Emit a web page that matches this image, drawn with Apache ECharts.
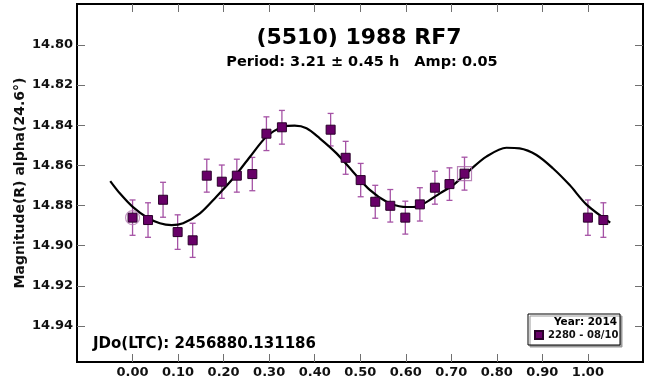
<!DOCTYPE html>
<html><head><meta charset="utf-8">
<script src="https://cdn.jsdelivr.net/npm/echarts@6/dist/echarts.min.js"></script>
<style>html,body{margin:0;padding:0;background:#fff}#c{width:652px;height:385px}</style>
</head><body><div id="c"></div>
<script>
// Observations (phase, magnitude, error)
const phases = [0.000,0.034,0.067,0.099,0.132,0.163,0.196,0.229,0.263,0.294,0.328,0.435,0.468,0.501,0.533,0.566,0.599,0.631,0.664,0.696,0.729];
const mags   = [14.8860,14.8872,14.8771,14.8932,14.8973,14.8651,14.8681,14.8651,14.8643,14.8442,14.8410,14.8422,14.8562,14.8673,14.8781,14.8801,14.8860,14.8794,14.8711,14.8693,14.8641];
const errs   = [0.0088,0.0086,0.0087,0.0086,0.0085,0.0082,0.0083,0.0082,0.0083,0.0084,0.0084,0.0081,0.0082,0.0083,0.0082,0.0081,0.0082,0.0083,0.0082,0.0081,0.0082];
// Fourier fit curve
const fitPhases = [-0.049,-0.028,0.001,0.031,0.060,0.086,0.111,0.148,0.184,0.221,0.258,0.294,0.331,0.356,0.382,0.411,0.448,0.484,0.521,0.558,0.594,0.616,0.638,0.675,0.704,0.741,0.777,0.821,0.850,0.887,0.923,0.960,0.997,1.049];
const fitMags   = [14.8678,14.8739,14.8808,14.8858,14.8888,14.8897,14.8888,14.8839,14.8756,14.8664,14.8557,14.8457,14.8407,14.8402,14.8415,14.8465,14.8540,14.8631,14.8722,14.8781,14.8806,14.8807,14.8792,14.8739,14.8698,14.8623,14.8556,14.8512,14.8515,14.8548,14.8614,14.8698,14.8795,14.8885];
const xTicks = [0.00,0.10,0.20,0.30,0.40,0.50,0.60,0.70,0.80,0.90,1.00];
const yTicks = [14.80,14.82,14.84,14.86,14.88,14.90,14.92,14.94];
const xMin = -0.122, xMax = 1.121;
const yMin = 14.7796, yMax = 14.9579;
const wrapLimit = 0.05;   // points repeated one cycle later
const seriesName = '2280 - 08/10';

const pts = [], bars = [];
phases.forEach((p,i)=>{
  pts.push([p, mags[i]]); bars.push([p, mags[i]-errs[i], mags[i]+errs[i]]);
  if (p + 1 <= 1 + wrapLimit) { pts.push([p+1, mags[i]]); bars.push([p+1, mags[i]-errs[i], mags[i]+errs[i]]); }
});
const fit = fitPhases.map((p,i)=>[p, fitMags[i]]);
const last = phases.length-1;

const FF = '"DejaVu Sans", sans-serif';
const tickStyle = {color:'#707070', width:1};
function xAx(pos, labels){
  return {type:'value', min:xMin, max:xMax, position:pos,
    axisLine:{show:false, onZero:false}, splitLine:{show:false},
    axisTick:{show:true, inside:true, length:8, customValues:xTicks, lineStyle:tickStyle},
    axisLabel:{show:labels, customValues:xTicks, formatter:v=>v.toFixed(2), fontFamily:FF, fontWeight:'bold', fontSize:13, color:'#111', margin:4}};
}
function yAx(pos, labels){
  const a = {type:'value', min:yMin, max:yMax, inverse:true, position:pos,
    axisLine:{show:false, onZero:false}, splitLine:{show:false},
    axisTick:{show:true, inside:true, length:8, customValues:yTicks, lineStyle:tickStyle},
    axisLabel:{show:labels, customValues:yTicks, formatter:v=>v.toFixed(2), fontFamily:FF, fontWeight:'bold', fontSize:13, color:'#111', margin:4}};
  if (labels) Object.assign(a, {name:'Magnitude(R) alpha(24.6°)', nameLocation:'middle', nameRotate:90, nameGap:50, nameMoveOverlap:false,
    nameTextStyle:{fontFamily:FF, fontWeight:'bold', fontSize:14, color:'#111'}});
  return a;
}

const chart = echarts.init(document.getElementById('c'), null, {renderer:'canvas'});
chart.setOption({
  animation:false,
  backgroundColor:'#fff',
  grid:{left:77, top:4, width:566, height:358, show:true, borderColor:'#000', borderWidth:2, backgroundColor:'transparent', outerBoundsMode:'none'},
  xAxis:[xAx('bottom', true), xAx('top', false)],
  yAxis:[yAx('left', true), yAx('right', false)],
  legend:{data:[seriesName], left:534, top:330, padding:0, itemWidth:8, itemHeight:8, icon:'rect',
    textStyle:{fontFamily:FF, fontWeight:'bold', fontSize:10, color:'#111'}},
  graphic:[
    {type:'text', x:359, y:38, style:{text:'(5510) 1988 RF7', fill:'#000', font:'bold 22px "DejaVu Sans"', textAlign:'center', textVerticalAlign:'middle'}},
    {type:'text', x:362, y:62, style:{text:'Period: 3.21 ± 0.45 h   Amp: 0.05', fill:'#000', font:'bold 14.5px "DejaVu Sans"', textAlign:'center', textVerticalAlign:'middle'}},
    {type:'text', x:93, y:344, style:{text:'JDo(LTC): 2456880.131186', fill:'#000', font:'bold 15px "DejaVu Sans"', textAlign:'left', textVerticalAlign:'middle'}},
    {type:'rect', shape:{x:528, y:314, width:92, height:31}, style:{fill:'#fff', stroke:'#000', lineWidth:1, shadowColor:'#9a9a9a', shadowOffsetX:2, shadowOffsetY:2, shadowBlur:0}, z:3},
    {type:'text', x:617, y:322, style:{text:'Year: 2014', fill:'#000', font:'bold 10.5px "DejaVu Sans"', textAlign:'right', textVerticalAlign:'middle'}, z:4}
  ],
  series:[
    {type:'custom', name:'err', z:1, data:bars, encode:{x:0, y:[1,2]},
      renderItem:function(params, api){
        const x = api.value(0);
        const a = api.coord([x, api.value(1)]), b = api.coord([x, api.value(2)]);
        const cw = 3, st = {stroke:'#a552a5', lineWidth:1.3};
        return {type:'group', children:[
          {type:'line', shape:{x1:a[0], y1:a[1], x2:b[0], y2:b[1]}, style:st},
          {type:'line', shape:{x1:a[0]-cw, y1:a[1], x2:a[0]+cw, y2:a[1]}, style:st},
          {type:'line', shape:{x1:b[0]-cw, y1:b[1], x2:b[0]+cw, y2:b[1]}, style:st}
        ]};
      }},
    {type:'line', name:'fit', z:2, data:fit, smooth:0.3, showSymbol:false, symbol:'none',
      lineStyle:{color:'#000', width:2.2}},
    {type:'scatter', name:seriesName, z:3, data:pts, symbol:'rect', symbolSize:9,
      itemStyle:{color:'#680068', borderColor:'#2a002a', borderWidth:1, opacity:1}},
    {type:'scatter', name:'first', z:4, data:[[phases[0], mags[0]]], symbol:'circle', symbolSize:14,
      itemStyle:{color:'rgba(0,0,0,0)', borderColor:'#b37ab3', borderWidth:1.2}},
    {type:'scatter', name:'last', z:4, data:[[phases[last], mags[last]]], symbol:'rect', symbolSize:14,
      itemStyle:{color:'rgba(0,0,0,0)', borderColor:'#a866a8', borderWidth:1.2}}
  ]
});
</script></body></html>
